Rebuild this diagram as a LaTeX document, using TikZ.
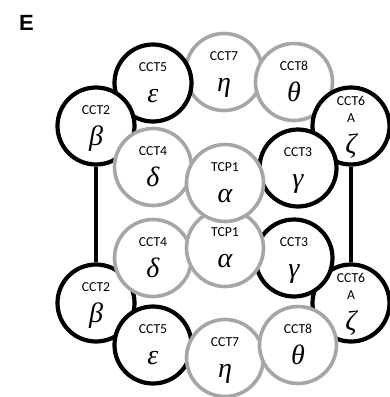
\documentclass[tikz,border=0pt]{standalone}
\usepackage{fontspec}
\setmainfont{Carlito}
\newfontfamily\headfont{Liberation Sans}
\newfontfamily\greekfont{Liberation Serif}
\usetikzlibrary{backgrounds}
\definecolor{ringgray}{HTML}{A6A6A6}
\tikzset{
  sub/.style={circle, minimum size=77pt, inner sep=0pt, fill=white, line width=4.2pt},
  blk/.style={sub, draw=black},
  gry/.style={sub, draw=ringgray, line width=3.6pt},
  lab/.style={anchor=base, inner sep=0pt, font=\fontsize{13.7}{14}\selectfont},
  grk/.style={anchor=base, inner sep=0pt, font=\greekfont\itshape\fontsize{28}{28}\selectfont},
  link/.style={line width=4.2pt}
}
\newcommand\subunit[5]{%
  \node[#2] (#1) at (#3) {};
  \node[lab] (#1-l) at ([yshift=12pt]#1.center) {#4};
  \node[grk] (#1-g) at ([yshift=-19pt]#1.center) {#5};
}
\begin{document}
\begin{tikzpicture}[x=1pt,y=-1pt]
\useasboundingbox (0,0) rectangle (389,397);
\node[anchor=base west, inner sep=0pt, font=\headfont\bfseries\fontsize{22}{22}\selectfont] (title) at (19,30) {E};
% bottom ring
\subunit{cct2b}{blk}{96,303}{CCT2}{β}
\subunit{cct5b}{blk}{153,345}{CCT5}{ε}
\subunit{cct4b}{gry}{153,258}{CCT4}{δ}
\subunit{cct7b}{gry}{225,358}{CCT7}{η}
\node[blk] (cct6b) at (351,303) {};
\node[lab] (cct6b-l) at ([yshift=20.5pt]cct6b.center) {CCT6};
\node[lab] (cct6b-a) at ([yshift=3.5pt]cct6b.center) {A};
\node[grk] (cct6b-g) at ([yshift=-27pt]cct6b.center) {ζ};
\subunit{cct8b}{gry}{298,345}{CCT8}{θ}
\subunit{cct3b}{blk}{294,258}{CCT3}{γ}
\subunit{tcp1b}{gry}{225,248}{TCP1}{α}
% top ring
\subunit{cct7a}{gry}{224,72}{CCT7}{η}
\subunit{cct5a}{blk}{153,83}{CCT5}{ε}
\subunit{cct2a}{blk}{96,126}{CCT2}{β}
\subunit{cct4a}{gry}{153,167}{CCT4}{δ}
\subunit{cct8a}{gry}{294,82}{CCT8}{θ}
\node[blk] (cct6a) at (351,126) {};
\node[lab] (cct6a-l) at ([yshift=20.5pt]cct6a.center) {CCT6};
\node[lab] (cct6a-a) at ([yshift=3.5pt]cct6a.center) {A};
\node[grk] (cct6a-g) at ([yshift=-27pt]cct6a.center) {ζ};
\subunit{cct3a}{blk}{298,168}{CCT3}{γ}
\subunit{tcp1a}{gry}{225,183}{TCP1}{α}
\begin{scope}[on background layer]
  \draw[link] (cct2a) -- (cct2b);
  \draw[link] (cct6a) -- (cct6b);
\end{scope}
\end{tikzpicture}
\end{document}
